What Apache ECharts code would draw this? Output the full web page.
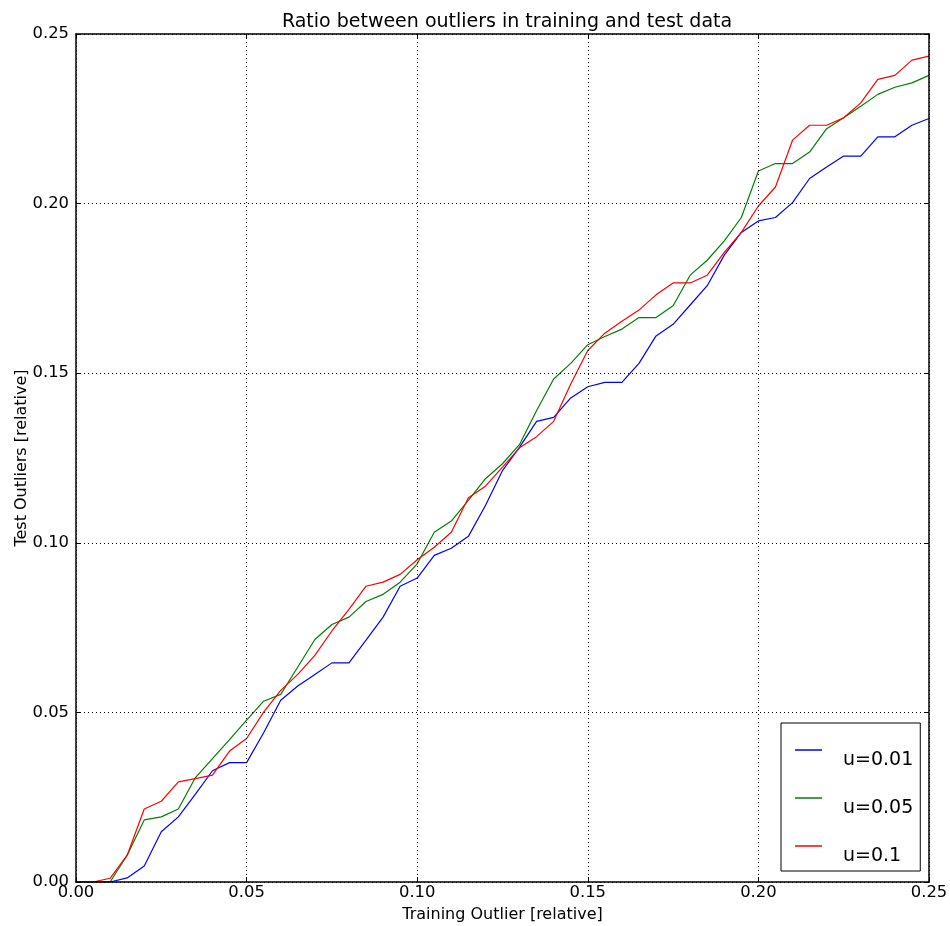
<!DOCTYPE html>
<html>
<head>
<meta charset="utf-8">
<script src="https://cdn.jsdelivr.net/npm/echarts@6/dist/echarts.min.js"></script>
<style>
  html, body { margin: 0; padding: 0; background: #fff; }
  #main { width: 950px; height: 926px; }
</style>
</head>
<body>
<div id="main"></div>
<script>
// training outlier fraction (x)
const trainOutlier = [0, 0.005, 0.01, 0.015, 0.02, 0.025, 0.03, 0.035, 0.04, 0.045, 0.05,
  0.055, 0.06, 0.065, 0.07, 0.075, 0.08, 0.085, 0.09, 0.095, 0.1,
  0.105, 0.11, 0.115, 0.12, 0.125, 0.13, 0.135, 0.14, 0.145, 0.15,
  0.155, 0.16, 0.165, 0.17, 0.175, 0.18, 0.185, 0.19, 0.195, 0.2,
  0.205, 0.21, 0.215, 0.22, 0.225, 0.23, 0.235, 0.24, 0.245, 0.25];

// test outlier fraction per u
const u001 = [0, 0, 0, 0.0012, 0.0047, 0.0148, 0.0192, 0.0259, 0.0328, 0.0352, 0.0352,
  0.044, 0.0536, 0.0578, 0.0612, 0.0646, 0.0646, 0.0713, 0.0781, 0.0872, 0.0896,
  0.0963, 0.0984, 0.1019, 0.111, 0.1213, 0.1282, 0.1358, 0.137, 0.1427, 0.146,
  0.1473, 0.1473, 0.1529, 0.161, 0.1644, 0.1701, 0.1758, 0.1848, 0.1915, 0.1949,
  0.1959, 0.2003, 0.2074, 0.2108, 0.214, 0.214, 0.2197, 0.2197, 0.2231, 0.2251];
const u005 = [0, 0, 0, 0.0079, 0.0183, 0.0192, 0.0215, 0.0308, 0.0364, 0.042, 0.0477,
  0.0533, 0.0553, 0.0634, 0.0715, 0.0759, 0.0781, 0.0827, 0.0848, 0.0884, 0.0938,
  0.1031, 0.1064, 0.1125, 0.1189, 0.1233, 0.129, 0.139, 0.1483, 0.1529, 0.1584,
  0.1608, 0.163, 0.1664, 0.1664, 0.1699, 0.1789, 0.1833, 0.189, 0.1959, 0.2096,
  0.2118, 0.2118, 0.2152, 0.2221, 0.2253, 0.2287, 0.2322, 0.2343, 0.2356, 0.2378];
const u01 = [0, 0, 0.0011, 0.0079, 0.0215, 0.0238, 0.0295, 0.0305, 0.0315, 0.0386, 0.0423,
  0.0501, 0.0565, 0.0612, 0.0668, 0.074, 0.0804, 0.0872, 0.0884, 0.0907, 0.095,
  0.0987, 0.1031, 0.1133, 0.1167, 0.1223, 0.128, 0.1313, 0.1358, 0.1468, 0.1567,
  0.1618, 0.1653, 0.1686, 0.1731, 0.1766, 0.1766, 0.1789, 0.1856, 0.1915, 0.1993,
  0.2049, 0.2187, 0.2231, 0.2231, 0.2253, 0.2297, 0.2366, 0.2378, 0.2423, 0.2435];

const seriesNames = ['u=0.01', 'u=0.05', 'u=0.1'];
const seriesColors = ['#0000ff', '#008000', '#ff0000'];
const seriesValues = [u001, u005, u01];

const font = 'DejaVu Sans';
const fmt = (v) => v.toFixed(2);

const myChart = echarts.init(document.getElementById('main'));

const option = {
  animation: false,
  backgroundColor: '#fff',
  textStyle: { fontFamily: font },
  title: {
    text: 'Ratio between outliers in training and test data',
    left: 502,
    textAlign: 'center',
    top: 8,
    textStyle: { fontFamily: font, fontSize: 19, fontWeight: 'normal', color: '#000' }
  },
  grid: { left: 76, right: 21, top: 34, bottom: 44, outerBoundsMode: 'none' },
  legend: {
    data: seriesNames,
    orient: 'vertical',
    left: 781,
    top: 723,
    padding: [7, 7, 5, 14],
    itemGap: 8,
    itemWidth: 27,
    itemHeight: 1.5,
    icon: 'rect',
    borderColor: '#000',
    borderWidth: 1,
    // blank first line pushes the label below the line sample, as in the original
    formatter: (name) => '\n' + name,
    textStyle: { fontFamily: font, fontSize: 19, lineHeight: 20, color: '#000', padding: [0, 0, 0, 16] }
  },
  xAxis: [
    {
      type: 'value', min: 0, max: 0.25, interval: 0.05, position: 'bottom', z: 5,
      name: 'Training Outlier [relative]', nameLocation: 'middle', nameGap: 25,
      nameTextStyle: { fontFamily: font, fontSize: 16, color: '#000' },
      axisLine: { onZero: false, lineStyle: { color: '#000', width: 1.5 } },
      axisTick: { inside: true, length: 5, lineStyle: { color: '#000' } },
      axisLabel: { margin: 3, fontFamily: font, fontSize: 16.4, color: '#000', formatter: fmt },
      splitLine: { show: false }
    },
    {
      type: 'value', min: 0, max: 0.25, interval: 0.05, position: 'top', z: 5,
      axisLine: { onZero: false, lineStyle: { color: '#000', width: 1.5 } },
      axisTick: { inside: true, length: 5, lineStyle: { color: '#000' } },
      axisLabel: { show: false },
      splitLine: { show: true, lineStyle: { color: '#000', type: [1, 3], width: 1 } }
    }
  ],
  yAxis: [
    {
      type: 'value', min: 0, max: 0.25, interval: 0.05, position: 'left', z: 5,
      name: 'Test Outliers [relative]', nameLocation: 'middle', nameGap: 46,
      nameMoveOverlap: false,
      nameTextStyle: { fontFamily: font, fontSize: 16, color: '#000' },
      axisLine: { onZero: false, lineStyle: { color: '#000', width: 1.5 } },
      axisTick: { inside: true, length: 5, lineStyle: { color: '#000' } },
      axisLabel: { margin: 7, fontFamily: font, fontSize: 16.4, color: '#000', formatter: fmt },
      splitLine: { show: false }
    },
    {
      type: 'value', min: 0, max: 0.25, interval: 0.05, position: 'right', z: 5,
      axisLine: { onZero: false, lineStyle: { color: '#000', width: 1.5 } },
      axisTick: { inside: true, length: 5, lineStyle: { color: '#000' } },
      axisLabel: { show: false },
      splitLine: { show: true, lineStyle: { color: '#000', type: [1, 3], width: 1 } }
    }
  ],
  series: seriesNames.map((name, i) => ({
    name: name,
    type: 'line',
    xAxisIndex: 0,
    yAxisIndex: 0,
    showSymbol: false,
    symbol: 'none',
    color: seriesColors[i],
    lineStyle: { color: seriesColors[i], width: 1.2 },
    data: trainOutlier.map((x, j) => [x, seriesValues[i][j]])
  }))
};

myChart.setOption(option);
</script>
</body>
</html>
